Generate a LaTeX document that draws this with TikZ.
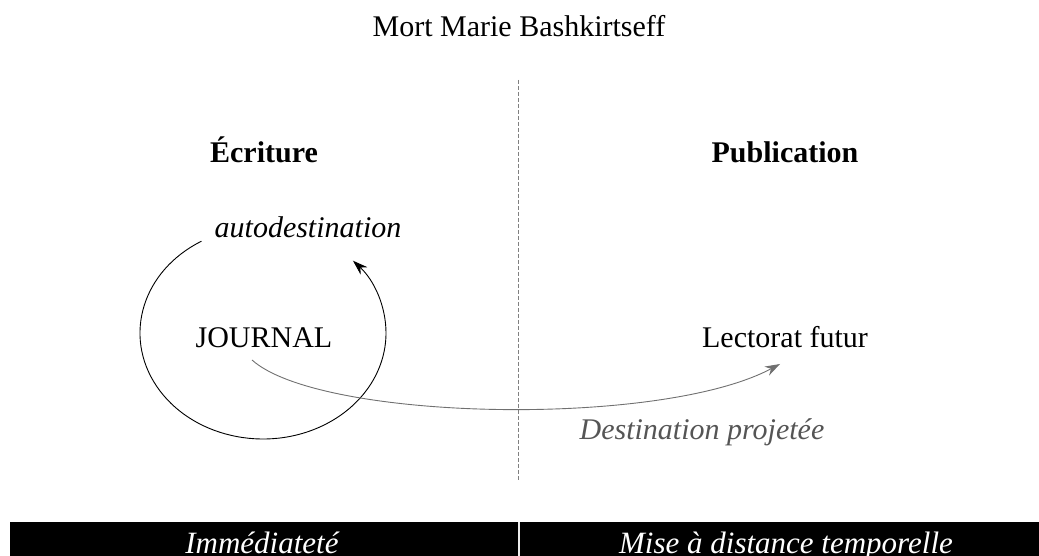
\documentclass[tikz,border=0pt]{standalone}
\usepackage{fontspec}
\setmainfont{Liberation Serif}
\usetikzlibrary{arrows.meta}
\definecolor{arrowgray}{HTML}{707070}
\definecolor{textgray}{HTML}{555555}
\begin{document}
\begin{tikzpicture}[x=1pt,y=1pt,
  lbl/.style={inner sep=0pt,anchor=base,font=\fontsize{30}{36}\selectfont},
  connector/.style={line width=0.9pt},
  barlbl/.style={inner sep=0pt,anchor=base,text=white,font=\fontsize{31}{36}\selectfont\itshape}]
\useasboundingbox (0,0) rectangle (1039,556);
% title and headings
\node[lbl] (title) at (519,519) {Mort Marie Bashkirtseff};
\node[lbl,font=\fontsize{30}{36}\selectfont\bfseries] (ecr) at (264,393) {Écriture};
\node[lbl,font=\fontsize{30}{36}\selectfont\bfseries] (pub) at (785,393) {Publication};
\node[lbl,font=\fontsize{30}{36}\selectfont\itshape] (auto) at (308,318) {autodestination};
\node[lbl] (journal) at (264,208) {JOURNAL};
\node[lbl] (lect) at (785,208) {Lectorat futur};
\node[lbl,text=textgray,font=\fontsize{30}{36}\selectfont\itshape] (dest) at (702,116) {Destination projetée};
% dashed divider
\coordinate (dtop) at (518,476);
\coordinate (dbot) at (518,76);
\draw[gray,line width=0.9pt,dash pattern=on 4pt off 2pt] (dtop) -- (dbot);
% loop
\coordinate (ls) at (201.5,314.8);
\draw[connector,-{Stealth[length=15pt,width=10pt]}] (ls) arc[start angle=120,end angle=403,x radius=123,y radius=106];
% projected destination arrow
\coordinate (gs) at (252,196);
\coordinate (ge) at (780,192);
\draw[connector,arrowgray,-{Stealth[length=15pt,width=10pt]}] (gs) .. controls (320,135) and (660,128) .. (ge);
% bottom bar
\fill[black] (10,34) rectangle (1045,-12);
\coordinate (bt) at (519,34);
\coordinate (bb) at (519,-12);
\draw[white!85!gray,line width=2pt] (bt) -- (bb);
\node[barlbl] (imm) at (262,2) {Immédiateté};
\node[barlbl] (mise) at (786,2) {Mise à distance temporelle};
\end{tikzpicture}
\end{document}
